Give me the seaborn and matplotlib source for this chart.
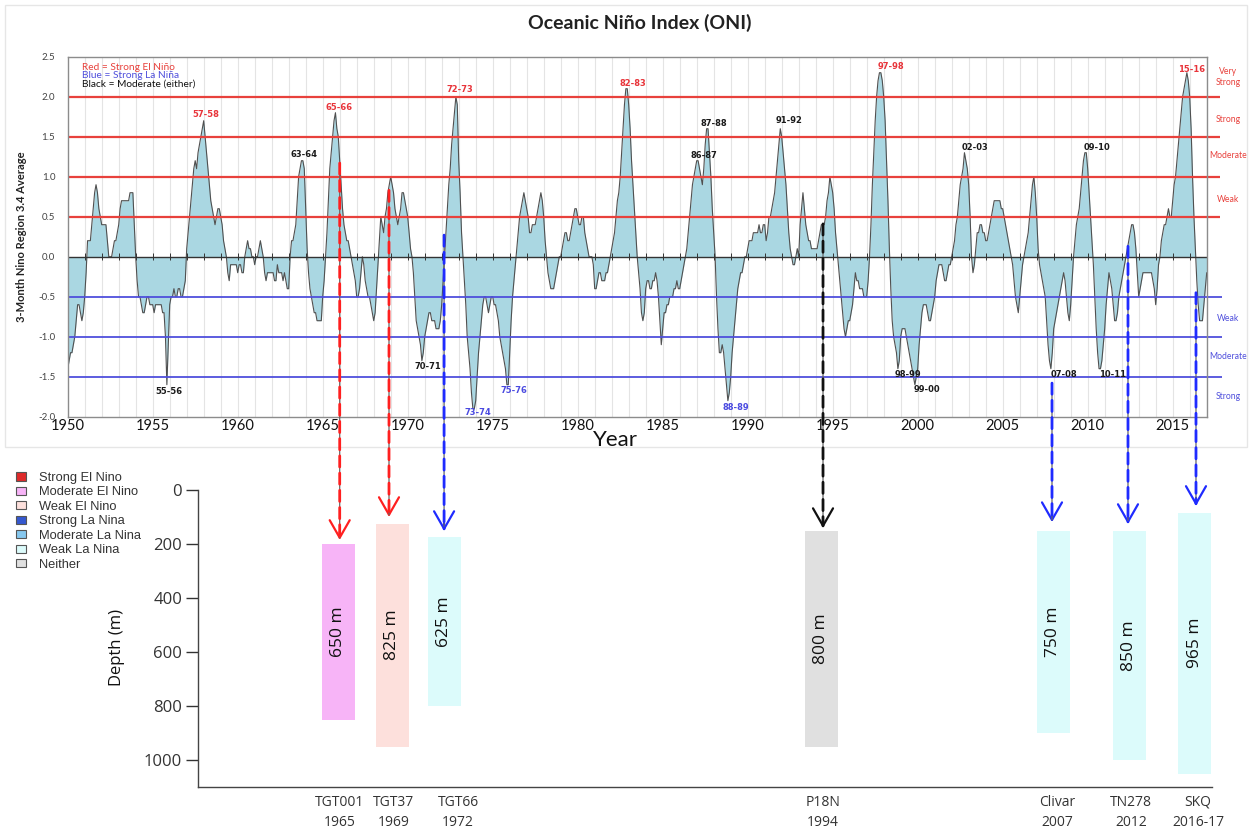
import numpy as np
import pandas as pd
import matplotlib
matplotlib.use("Agg")
import matplotlib.pyplot as plt
import seaborn as sns
from matplotlib.patches import Patch, Rectangle, ConnectionPatch

# ---------------- DATA ----------------
# Oceanic Nino Index, running 3-month means (DJF ... NDJ)
oni_1950s = [
    -1.4, -1.3, -1.2, -1.2, -1.1, -1.0, -0.8, -0.6, -0.6, -0.7, -0.8, -0.7,
    -0.5, -0.2, 0.2, 0.2, 0.2, 0.4, 0.6, 0.8, 0.9, 0.8, 0.6, 0.5,
    0.4, 0.4, 0.4, 0.4, 0.2, 0.0, 0.0, 0.0, 0.1, 0.2, 0.2, 0.3,
    0.4, 0.6, 0.7, 0.7, 0.7, 0.7, 0.7, 0.7, 0.8, 0.8, 0.8, 0.4,
    0.0, -0.3, -0.5, -0.5, -0.6, -0.7, -0.7, -0.6, -0.5, -0.5, -0.6, -0.6,
    -0.6, -0.7, -0.6, -0.6, -0.6, -0.6, -0.6, -0.7, -0.7, -1.0, -1.6, -1.1,
    -0.6, -0.5, -0.5, -0.4, -0.5, -0.5, -0.4, -0.4, -0.5, -0.5, -0.4, -0.3,
    0.1, 0.3, 0.5, 0.7, 0.9, 1.1, 1.2, 1.1, 1.3, 1.4, 1.5, 1.6,
    1.7, 1.5, 1.3, 1.1, 0.9, 0.7, 0.6, 0.5, 0.4, 0.5, 0.6, 0.6,
    0.5, 0.4, 0.2, 0.1, 0.0, -0.2, -0.3, -0.1, -0.1, -0.1, -0.1, -0.1,
]
oni_1960s = [
    -0.2, -0.1, -0.1, -0.2, -0.2, 0.0, 0.1, 0.2, 0.1, 0.1, 0.0, 0.0,
    -0.1, 0.0, 0.0, 0.1, 0.2, 0.1, 0.0, -0.2, -0.3, -0.2, -0.2, -0.2,
    -0.2, -0.2, -0.3, -0.3, -0.1, -0.2, -0.2, -0.2, -0.3, -0.2, -0.3, -0.4,
    -0.4, 0.0, 0.2, 0.2, 0.3, 0.4, 0.7, 1.0, 1.1, 1.2, 1.2, 1.1,
    0.6, 0.1, -0.2, -0.4, -0.5, -0.6, -0.7, -0.7, -0.8, -0.8, -0.8, -0.8,
    -0.5, -0.3, 0.0, 0.3, 0.7, 1.1, 1.3, 1.5, 1.7, 1.8, 1.6, 1.5,
    1.2, 0.9, 0.6, 0.4, 0.3, 0.2, 0.2, 0.1, 0.0, -0.1, -0.2, -0.3,
    -0.5, -0.5, -0.4, -0.2, 0.0, -0.1, -0.3, -0.4, -0.5, -0.5, -0.6, -0.7,
    -0.8, -0.7, -0.4, -0.1, 0.2, 0.5, 0.4, 0.3, 0.5, 0.6, 0.8, 0.9,
    1.0, 0.9, 0.8, 0.6, 0.5, 0.4, 0.5, 0.6, 0.8, 0.8, 0.7, 0.6,
]
oni_1970s = [
    0.5, 0.3, 0.1, 0.0, -0.2, -0.5, -0.8, -0.9, -1.0, -1.1, -1.3, -1.2,
    -1.0, -0.9, -0.8, -0.7, -0.7, -0.8, -0.8, -0.8, -0.9, -0.9, -0.9, -0.8,
    -0.6, -0.3, 0.0, 0.3, 0.6, 0.9, 1.1, 1.4, 1.6, 1.8, 2.0, 1.9,
    1.2, 0.8, 0.3, 0.0, -0.3, -0.6, -1.0, -1.2, -1.4, -1.7, -1.9, -1.9,
    -1.8, -1.5, -1.2, -1.0, -0.8, -0.6, -0.5, -0.5, -0.6, -0.7, -0.6, -0.5,
    -0.5, -0.6, -0.6, -0.7, -0.8, -1.0, -1.1, -1.2, -1.3, -1.4, -1.6, -1.6,
    -1.2, -0.8, -0.5, -0.3, -0.1, 0.1, 0.3, 0.5, 0.6, 0.7, 0.8, 0.7,
    0.6, 0.5, 0.3, 0.3, 0.4, 0.4, 0.4, 0.5, 0.6, 0.7, 0.8, 0.7,
    0.5, 0.2, 0.0, -0.2, -0.3, -0.4, -0.4, -0.4, -0.3, -0.2, -0.1, 0.0,
    0.0, 0.1, 0.2, 0.3, 0.3, 0.2, 0.2, 0.3, 0.4, 0.5, 0.6, 0.6,
]
oni_1980s = [
    0.5, 0.4, 0.4, 0.5, 0.5, 0.3, 0.2, 0.1, 0.0, 0.0, 0.0, -0.1,
    -0.4, -0.4, -0.3, -0.2, -0.2, -0.3, -0.3, -0.3, -0.2, -0.2, -0.1, 0.0,
    0.1, 0.2, 0.3, 0.5, 0.7, 0.8, 1.0, 1.3, 1.6, 1.9, 2.1, 2.1,
    1.9, 1.6, 1.2, 0.9, 0.6, 0.3, 0.0, -0.2, -0.4, -0.7, -0.8, -0.7,
    -0.4, -0.3, -0.3, -0.4, -0.4, -0.3, -0.3, -0.2, -0.3, -0.5, -0.8, -1.1,
    -0.9, -0.7, -0.7, -0.6, -0.6, -0.5, -0.5, -0.5, -0.4, -0.4, -0.3, -0.4,
    -0.4, -0.3, -0.2, -0.1, 0.0, 0.1, 0.3, 0.5, 0.7, 0.9, 1.0, 1.1,
    1.2, 1.2, 1.1, 1.0, 0.9, 1.1, 1.4, 1.6, 1.6, 1.3, 1.0, 0.6,
    0.3, 0.0, -0.5, -0.9, -1.2, -1.2, -1.1, -1.2, -1.4, -1.6, -1.8, -1.7,
    -1.5, -1.2, -1.0, -0.8, -0.6, -0.4, -0.3, -0.2, -0.2, -0.1, 0.0, 0.0,
]
oni_1990s = [
    0.1, 0.2, 0.2, 0.2, 0.3, 0.3, 0.3, 0.3, 0.4, 0.3, 0.3, 0.4,
    0.4, 0.2, 0.3, 0.5, 0.5, 0.6, 0.7, 0.8, 1.0, 1.2, 1.4, 1.6,
    1.5, 1.3, 1.1, 0.9, 0.6, 0.3, 0.1, 0.0, -0.1, -0.1, 0.0, 0.1,
    0.0, 0.4, 0.6, 0.8, 0.6, 0.4, 0.3, 0.2, 0.2, 0.1, 0.1, 0.1,
    0.1, 0.1, 0.2, 0.3, 0.4, 0.4, 0.4, 0.5, 0.7, 0.8, 1.0, 0.9,
    0.8, 0.6, 0.3, 0.1, -0.1, -0.3, -0.5, -0.7, -0.9, -1.0, -0.9, -0.8,
    -0.8, -0.7, -0.6, -0.4, -0.2, -0.3, -0.3, -0.4, -0.4, -0.4, -0.5, -0.5,
    -0.5, -0.3, 0.0, 0.4, 0.9, 1.3, 1.7, 2.0, 2.2, 2.3, 2.3, 2.2,
    2.0, 1.7, 1.2, 0.7, 0.1, -0.4, -0.8, -1.0, -1.1, -1.2, -1.4, -1.3,
    -1.0, -0.9, -0.9, -0.9, -1.0, -1.1, -1.2, -1.3, -1.4, -1.5, -1.6, -1.5,
]
oni_2000s = [
    -1.4, -1.1, -0.9, -0.7, -0.6, -0.6, -0.6, -0.7, -0.8, -0.8, -0.7, -0.6,
    -0.5, -0.3, -0.2, -0.1, -0.1, -0.1, -0.2, -0.3, -0.3, -0.2, -0.1, -0.1,
    0.0, 0.1, 0.2, 0.4, 0.5, 0.7, 0.9, 1.0, 1.1, 1.3, 1.2, 1.1,
    0.9, 0.5, 0.0, -0.2, -0.1, 0.1, 0.3, 0.3, 0.4, 0.4, 0.3, 0.3,
    0.2, 0.2, 0.3, 0.4, 0.5, 0.6, 0.7, 0.7, 0.7, 0.7, 0.7, 0.6,
    0.6, 0.5, 0.4, 0.3, 0.2, 0.1, 0.0, -0.1, -0.3, -0.5, -0.6, -0.7,
    -0.5, -0.3, -0.1, 0.0, 0.1, 0.2, 0.3, 0.5, 0.7, 0.9, 1.0, 0.8,
    0.5, 0.1, -0.1, -0.2, -0.3, -0.4, -0.5, -0.8, -1.1, -1.3, -1.4, -1.2,
    -0.9, -0.8, -0.7, -0.6, -0.5, -0.4, -0.3, -0.2, -0.3, -0.5, -0.7, -0.8,
    -0.6, -0.3, 0.0, 0.2, 0.4, 0.5, 0.6, 0.8, 1.0, 1.2, 1.3, 1.3,
]
oni_2010s = [
    1.1, 0.8, 0.5, 0.2, -0.1, -0.5, -0.9, -1.2, -1.4, -1.4, -1.3, -1.1,
    -0.9, -0.6, -0.4, -0.2, -0.3, -0.4, -0.6, -0.8, -0.8, -0.7, -0.5, -0.4,
    -0.3, -0.2, -0.1, 0.0, 0.1, 0.2, 0.3, 0.4, 0.4, 0.3, 0.1, -0.2,
    -0.5, -0.4, -0.3, -0.2, -0.2, -0.2, -0.2, -0.2, -0.2, -0.2, -0.3, -0.4,
    -0.6, -0.4, -0.1, 0.0, 0.2, 0.3, 0.4, 0.4, 0.5, 0.6, 0.5, 0.5,
    0.7, 0.9, 1.0, 1.2, 1.4, 1.6, 1.8, 2.0, 2.1, 2.2, 2.3, 2.2,
    2.0, 1.6, 1.0, 0.5, 0.1, -0.3, -0.6, -0.8, -0.8, -0.8, -0.6, -0.4,
    -0.2,
]
oni_start_year = 1950

threshold_el_nino = [0.5, 1.0, 1.5, 2.0]
threshold_la_nina = [-0.5, -1.0, -1.5]
strength_el_nino = ["Weak", "Moderate", "Strong", "Very\nStrong"]
strength_el_nino_y = [0.72, 1.26, 1.72, 2.25]
strength_la_nina = ["Weak", "Moderate", "Strong"]
strength_la_nina_y = [-0.77, -1.25, -1.75]

event_names = ["57-58", "65-66", "63-64", "55-56", "70-71", "72-73", "73-74",
               "75-76", "82-83", "86-87", "87-88", "88-89", "91-92", "97-98",
               "98-99", "99-00", "02-03", "07-08", "09-10", "10-11", "15-16"]
event_x = [1958.14, 1965.96, 1963.9, 1955.96, 1971.21, 1973.08, 1974.12,
           1976.25, 1983.27, 1987.45, 1987.98, 1989.31, 1992.43, 1998.41,
           1999.45, 2000.53, 2003.37, 2008.61, 2010.53, 2011.49, 2016.12]
event_y = [1.78, 1.87, 1.28, -1.69, -1.37, 2.09, -1.95,
           -1.67, 2.17, 1.26, 1.67, -1.89, 1.70, 2.38,
           -1.47, -1.66, 1.37, -1.47, 1.37, -1.47, 2.34]
event_kind = ["strong_nino", "strong_nino", "moderate", "moderate", "moderate",
              "strong_nino", "strong_nina", "strong_nina", "strong_nino",
              "moderate", "moderate", "strong_nina", "moderate", "strong_nino",
              "moderate", "moderate", "moderate", "moderate", "moderate",
              "moderate", "strong_nino"]

cruise_names = ["TGT001", "TGT37", "TGT66", "P18N", "Clivar", "TN278", "SKQ"]
cruise_years = ["1965", "1969", "1972", "1994", "2007", "2012", "2016-17"]
cruise_tick_x = [1966.0, 1969.19, 1972.96, 1994.43, 2008.19, 2012.55, 2016.49]
bar_x = [1965.9, 1969.1, 1972.16, 1994.34, 2007.96, 2012.43, 2016.31]
sample_top = [200, 125, 175, 150, 150, 150, 85]
sample_bottom = [850, 950, 800, 950, 900, 1000, 1050]
depth_labels = ["650 m", "825 m", "625 m", "800 m", "750 m", "850 m", "965 m"]
enso_class = ["Moderate El Nino", "Weak El Nino", "Weak La Nina", "Neither",
              "Weak La Nina", "Weak La Nina", "Weak La Nina"]
arrow_x = [1966.0, 1968.9, 1972.14, 1994.43, 2007.9, 2012.37, 2016.37]
arrow_start_oni = [1.17, 0.83, 0.27, 0.41, -1.58, 0.13, -0.45]
arrow_tip_depth = [185, 100, 152, 141, 119, 126, 59]
arrow_kind = ["nino", "nino", "nina", "none", "nina", "nina", "nina"]

legend_classes = ["Strong El Nino", "Moderate El Nino", "Weak El Nino",
                  "Strong La Nina", "Moderate La Nina", "Weak La Nina", "Neither"]
legend_colors = ["#de2a2a", "#f7b4f7", "#fde0dc", "#3558cf", "#86c8ef",
                 "#dcfbfb", "#e0e0e0"]

# ---------------- STYLE ----------------
sns.set_style("white")
plt.rcParams["font.family"] = ["Lato", "DejaVu Sans"]

W, H = 1252, 834
fig = plt.figure(figsize=(W / 100, H / 100), dpi=100)


def px_rect(l, t, r, b):
    return [l / W, 1 - b / H, (r - l) / W, (b - t) / H]


PX_PER_YEAR = 17.0
X0_PX = 67.7


def px_to_year(px):
    return 1950 + (px - X0_PX) / PX_PER_YEAR


# faint frame around the ONI picture
fig.add_artist(Rectangle((5 / W, 1 - 447 / H), (1247 - 5) / W, (447 - 5) / H,
                         transform=fig.transFigure, fill=False,
                         edgecolor="#e6e6e6", lw=1))

# ---------------- TOP: ONI ----------------
ax1 = fig.add_axes(px_rect(X0_PX, 56.7, 1207, 416.7))
oni = np.array(oni_1950s + oni_1960s + oni_1970s + oni_1980s + oni_1990s
               + oni_2000s + oni_2010s)
t = oni_start_year + np.arange(len(oni)) / 12.0
df = pd.DataFrame({"year": t, "oni": oni})

ax1.set_xlim(1950, px_to_year(1207))
ax1.set_ylim(-2.0, 2.5)
ax1.vlines(np.arange(1951, 2018), -2.0, 2.5, color="#e4e4e4", lw=0.8, zorder=0)
ax1.fill_between(df["year"], 0, df["oni"], color="#aad7e2", lw=0, zorder=2)
sns.lineplot(data=df, x="year", y="oni", ax=ax1, color="#505050", lw=0.8,
             estimator=None, zorder=3)
ax1.axhline(0, color="#333333", lw=1.0, zorder=4)
ax1.vlines(np.arange(1951, 2017), -0.04, 0.04, color="#333333", lw=0.7, zorder=4)

red = "#e8413c"
blue = "#4f4fdc"
for v in threshold_el_nino:
    ax1.plot([1950, px_to_year(1220)], [v, v], color=red, lw=1.6,
             clip_on=False, zorder=5, solid_capstyle="butt")
for v in threshold_la_nina:
    ax1.plot([1950, px_to_year(1222)], [v, v], color=blue, lw=1.3,
             clip_on=False, zorder=5, solid_capstyle="butt")

for name, yv in zip(strength_el_nino, strength_el_nino_y):
    ax1.text(px_to_year(1228), yv, name, color=red, fontsize=6.2, ha="center",
             va="center", clip_on=False, linespacing=1.3)
for name, yv in zip(strength_la_nina, strength_la_nina_y):
    ax1.text(px_to_year(1228), yv, name, color=blue, fontsize=6.2, ha="center",
             va="center", clip_on=False)

kind_color = {"strong_nino": "#e8343a", "strong_nina": "#4a4ae0",
              "moderate": "#1a1a1a"}
for n, xv, yv, k in zip(event_names, event_x, event_y, event_kind):
    ax1.text(xv, yv, n, color=kind_color[k], fontsize=6.0, fontweight="bold",
             family=["DejaVu Sans"], ha="center", va="center", zorder=6)

ax1.text(1950.84, 2.37, "Red = Strong El Niño", color=red, fontsize=7.3,
         va="center", zorder=6)
ax1.text(1950.84, 2.265, "Blue = Strong La Niña", color=blue, fontsize=7.3,
         va="center", zorder=6)
ax1.text(1950.84, 2.16, "Black = Moderate (either)", color="#111111",
         fontsize=7.3, va="center", zorder=6)

ax1.set_xticks(np.arange(1950, 2016, 5))
ax1.set_xticklabels([str(y) for y in range(1950, 2016, 5)])
ax1.tick_params(axis="x", length=0, pad=2, labelsize=10.5, colors="#111111")
yt = np.arange(-2.0, 2.51, 0.5)
ax1.set_yticks(yt)
ax1.set_yticklabels([f"{v:.1f}" for v in yt])
ax1.tick_params(axis="y", length=0, pad=9, labelsize=7, colors="#444444")
ax1.set_xlabel("")
ax1.set_ylabel("3-Month Nino Region 3.4 Average", fontsize=8,
               fontweight="bold", color="#222222")
ax1.yaxis.set_label_coords((27 - X0_PX) / (1207 - X0_PX), 0.5)
for s in ax1.spines.values():
    s.set_color("#8c8c8c")
    s.set_linewidth(1.0)
    s.set_zorder(7)

fig.text(640 / W, 1 - 23 / H, "Oceanic Niño Index (ONI)", ha="center",
         va="center", fontsize=14, fontweight="bold", color="#222222")
fig.text(615 / W, 1 - 440 / H, "Year", ha="center", va="center",
         fontsize=16, color="#111111")

# ---------------- BOTTOM: sample depths ----------------
ax2 = fig.add_axes(px_rect(198, 490, 1212, 787))
ax2.set_facecolor("none")
ax2.set_xlim(px_to_year(198), px_to_year(1212))
ax2.set_ylim(1100, 0)
cmap = dict(zip(legend_classes, legend_colors))
bar_w = 33 / PX_PER_YEAR
heights = [b - tp for tp, b in zip(sample_top, sample_bottom)]
ax2.bar(bar_x, heights, bottom=sample_top, width=bar_w,
        color=[cmap[c] for c in enso_class], lw=0, zorder=2)
for xv, tp, b, lab in zip(bar_x, sample_top, sample_bottom, depth_labels):
    ax2.text(xv, (tp + b) / 2, lab, rotation=90, ha="center", va="center",
             fontsize=12.5, family=["Open Sans", "DejaVu Sans"],
             color="#111111", zorder=3)

ax2.set_xticks(cruise_tick_x)
ax2.set_xticklabels([f"{n}\n{y}" for n, y in zip(cruise_names, cruise_years)],
                    family=["Open Sans", "DejaVu Sans"], fontsize=10,
                    linespacing=1.45)
ax2.tick_params(axis="x", direction="inout", length=9, width=1,
                colors="#333333", pad=1)
ax2.set_yticks(np.arange(0, 1001, 200))
ax2.set_yticklabels([str(v) for v in range(0, 1001, 200)],
                    family=["Open Sans", "DejaVu Sans"], fontsize=12)
ax2.tick_params(axis="y", direction="out", length=8.5, width=1,
                colors="#333333", pad=3, left=True)
ax2.set_ylabel("Depth (m)", fontsize=12, family=["Open Sans", "DejaVu Sans"],
               color="#111111")
ax2.yaxis.set_label_coords((125 - 198) / (1212 - 198), 0.47)
ax2.set_xlabel("")
for side in ["top", "right"]:
    ax2.spines[side].set_visible(False)
for side in ["left", "bottom"]:
    ax2.spines[side].set_color("#444444")
    ax2.spines[side].set_linewidth(1.0)

# ---------------- arrows linking ONI to cruises ----------------
arrow_color = {"nino": "#ff1f1f", "nina": "#1f2bff", "none": "#111111"}
for xv, st, tip, k in zip(arrow_x, arrow_start_oni, arrow_tip_depth, arrow_kind):
    c = arrow_color[k]
    base = ConnectionPatch(xyA=(xv, st), coordsA=ax1.transData,
                           xyB=(xv, tip - 8), coordsB=ax2.transData,
                           color="#666666", lw=0.9, zorder=8)
    fig.add_artist(base)
    dash = ConnectionPatch(xyA=(xv, st), coordsA=ax1.transData,
                           xyB=(xv, tip - 8), coordsB=ax2.transData,
                           color=c, lw=2.0, linestyle=(0, (4, 2.2)), zorder=9)
    fig.add_artist(dash)
    ax2.annotate("", xy=(xv, tip), xytext=(xv, tip - 30),
                 arrowprops=dict(arrowstyle="->,head_length=0.7,head_width=0.4",
                                 color=c, lw=1.6, mutation_scale=18,
                                 shrinkA=0, shrinkB=0),
                 annotation_clip=False, zorder=10)

# ---------------- legend ----------------
handles = [Patch(facecolor=c, edgecolor="#555555", lw=0.8, label=l)
           for l, c in zip(legend_classes, legend_colors)]
leg = fig.legend(handles=handles, loc="upper left",
                 bbox_to_anchor=(16 / W, 1 - 472 / H), frameon=False,
                 prop={"family": ["Liberation Sans", "DejaVu Sans"], "size": 9.3},
                 handlelength=0.8, handleheight=0.6, handletextpad=1.0,
                 labelspacing=0.19, borderpad=0, borderaxespad=0)
for txt in leg.get_texts():
    txt.set_color("#333333")

fig.savefig("out.png", dpi=100)
